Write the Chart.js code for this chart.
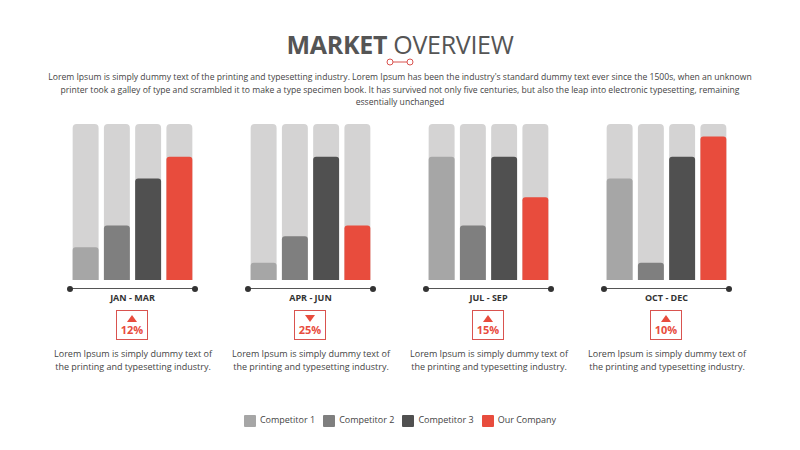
<!DOCTYPE html>
<html>
<head>
<meta charset="utf-8">
<script src="https://cdn.jsdelivr.net/npm/chart.js@4"></script>
<style>
body { margin:0; width:800px; height:450px; background:#fff; font-family:"Open Sans", sans-serif; position:relative; overflow:hidden; color:#444; }
.abs { position:absolute; }
h1 { position:absolute; top:27px; left:0; width:800px; text-align:center; margin:0; font-size:25px; font-weight:400; color:#555; letter-spacing:-0.3px; }
h1 b { font-weight:700; }
.intro { top:71px; left:40px; width:720px; text-align:center; font-size:8.6px; line-height:12.5px; color:#444; }
.box { width:125px; height:156px; top:124px; }
.axis { top:288px; width:125px; height:1px; background:#555; }
.axis:before, .axis:after { content:""; position:absolute; top:-2.5px; width:6px; height:6px; border-radius:50%; background:#333; }
.axis:before { left:-3px; } .axis:after { right:-3px; }
.lbl { top:291px; width:125px; text-align:center; font-size:9px; font-weight:700; color:#333; }
.badge { top:310px; width:32px; height:30px; border:1.5px solid #d9534f; box-sizing:border-box; color:#e84c3d; font-size:11px; font-weight:700; text-align:center; line-height:11px; padding-top:4px; }
.tri { width:0; height:0; margin:0 auto 2px; border-left:5px solid transparent; border-right:5px solid transparent; }
.up { border-bottom:7px solid #e84c3d; }
.dn { border-top:7px solid #e84c3d; }
.desc { top:348px; width:160px; text-align:center; font-size:9px; line-height:12.5px; color:#444; }
.legend { top:413px; left:0; width:800px; text-align:center; font-size:9px; color:#444; }
.legend span { display:inline-block; margin:0 4px; }
.legend i { display:inline-block; width:12px; height:12px; vertical-align:middle; margin-right:4px; border-radius:1px; }
</style>
</head>
<body>
<h1><b>MARKET</b> OVERVIEW</h1>
<svg class="abs" style="left:385px;top:57px" width="30" height="10"><circle cx="5" cy="5" r="3" fill="none" stroke="#d9534f" stroke-width="1"/><circle cx="25" cy="5" r="3" fill="none" stroke="#d9534f" stroke-width="1"/><line x1="8" y1="5" x2="22" y2="5" stroke="#d9534f"/></svg>
<div class="abs intro">Lorem Ipsum is simply dummy text of the printing and typesetting industry. Lorem Ipsum has been the industry's standard dummy text ever since the 1500s, when an unknown printer took a galley of type and scrambled it to make a type specimen book. It has survived not only five centuries, but also the leap into electronic typesetting, remaining essentially unchanged</div>
<div id="groups"></div>
<div class="abs legend" id="legend"></div>
<script>
const series = ['Competitor 1', 'Competitor 2', 'Competitor 3', 'Our Company']
const periods = ['JAN - MAR', 'APR - JUN', 'JUL - SEP', 'OCT - DEC']
const values = [
    [21, 35, 65, 79],
    [11, 28, 79, 35],
    [79, 35, 79, 53],
    [65, 11, 79, 92]
]
const changes = ['12%', '25%', '15%', '10%']
const directions = ['up', 'dn', 'up', 'up']
const colors = ['#a6a6a6', '#7f7f7f', '#505050', '#e84c3d']
const trackColor = '#d4d3d3'
const lefts = [70, 248, 426, 604]

let groups = document.getElementById('groups')
for (let i = 0; i < periods.length; i++) {
    let x = lefts[i]
    let html = `<div class="abs box" style="left:${x}px"><canvas id="c${i}"></canvas></div>
        <div class="abs axis" style="left:${x}px"></div>
        <div class="abs lbl" style="left:${x}px">${periods[i]}</div>
        <div class="abs badge" style="left:${x + 46}px"><div class="tri ${directions[i]}"></div>${changes[i]}</div>
        <div class="abs desc" style="left:${x - 17}px">Lorem Ipsum is simply dummy text of the printing and typesetting industry.</div>`
    groups.insertAdjacentHTML('beforeend', html)

    new Chart(document.getElementById('c' + i), {
        type: 'bar',
        data: {
            labels: series,
            datasets: [
                { data: values[i], backgroundColor: colors, borderRadius: 3, borderSkipped: 'bottom', grouped: false, order: 1 },
                { data: series.map(() => 100), backgroundColor: trackColor, borderRadius: 4, borderSkipped: 'bottom', grouped: false, order: 2 }
            ]
        },
        options: {
            animation: false,
            responsive: true,
            maintainAspectRatio: false,
            layout: { padding: 0 },
            datasets: { bar: { categoryPercentage: 1, barPercentage: 0.83 } },
            scales: {
                x: { display: false },
                y: { display: false, min: 0, max: 100 }
            },
            plugins: { legend: { display: false }, tooltip: { enabled: false } }
        }
    })
}

document.getElementById('legend').innerHTML = series.map((s, i) =>
    `<span><i style="background:${colors[i]}"></i>${s}</span>`).join('')
</script>
</body>
</html>
